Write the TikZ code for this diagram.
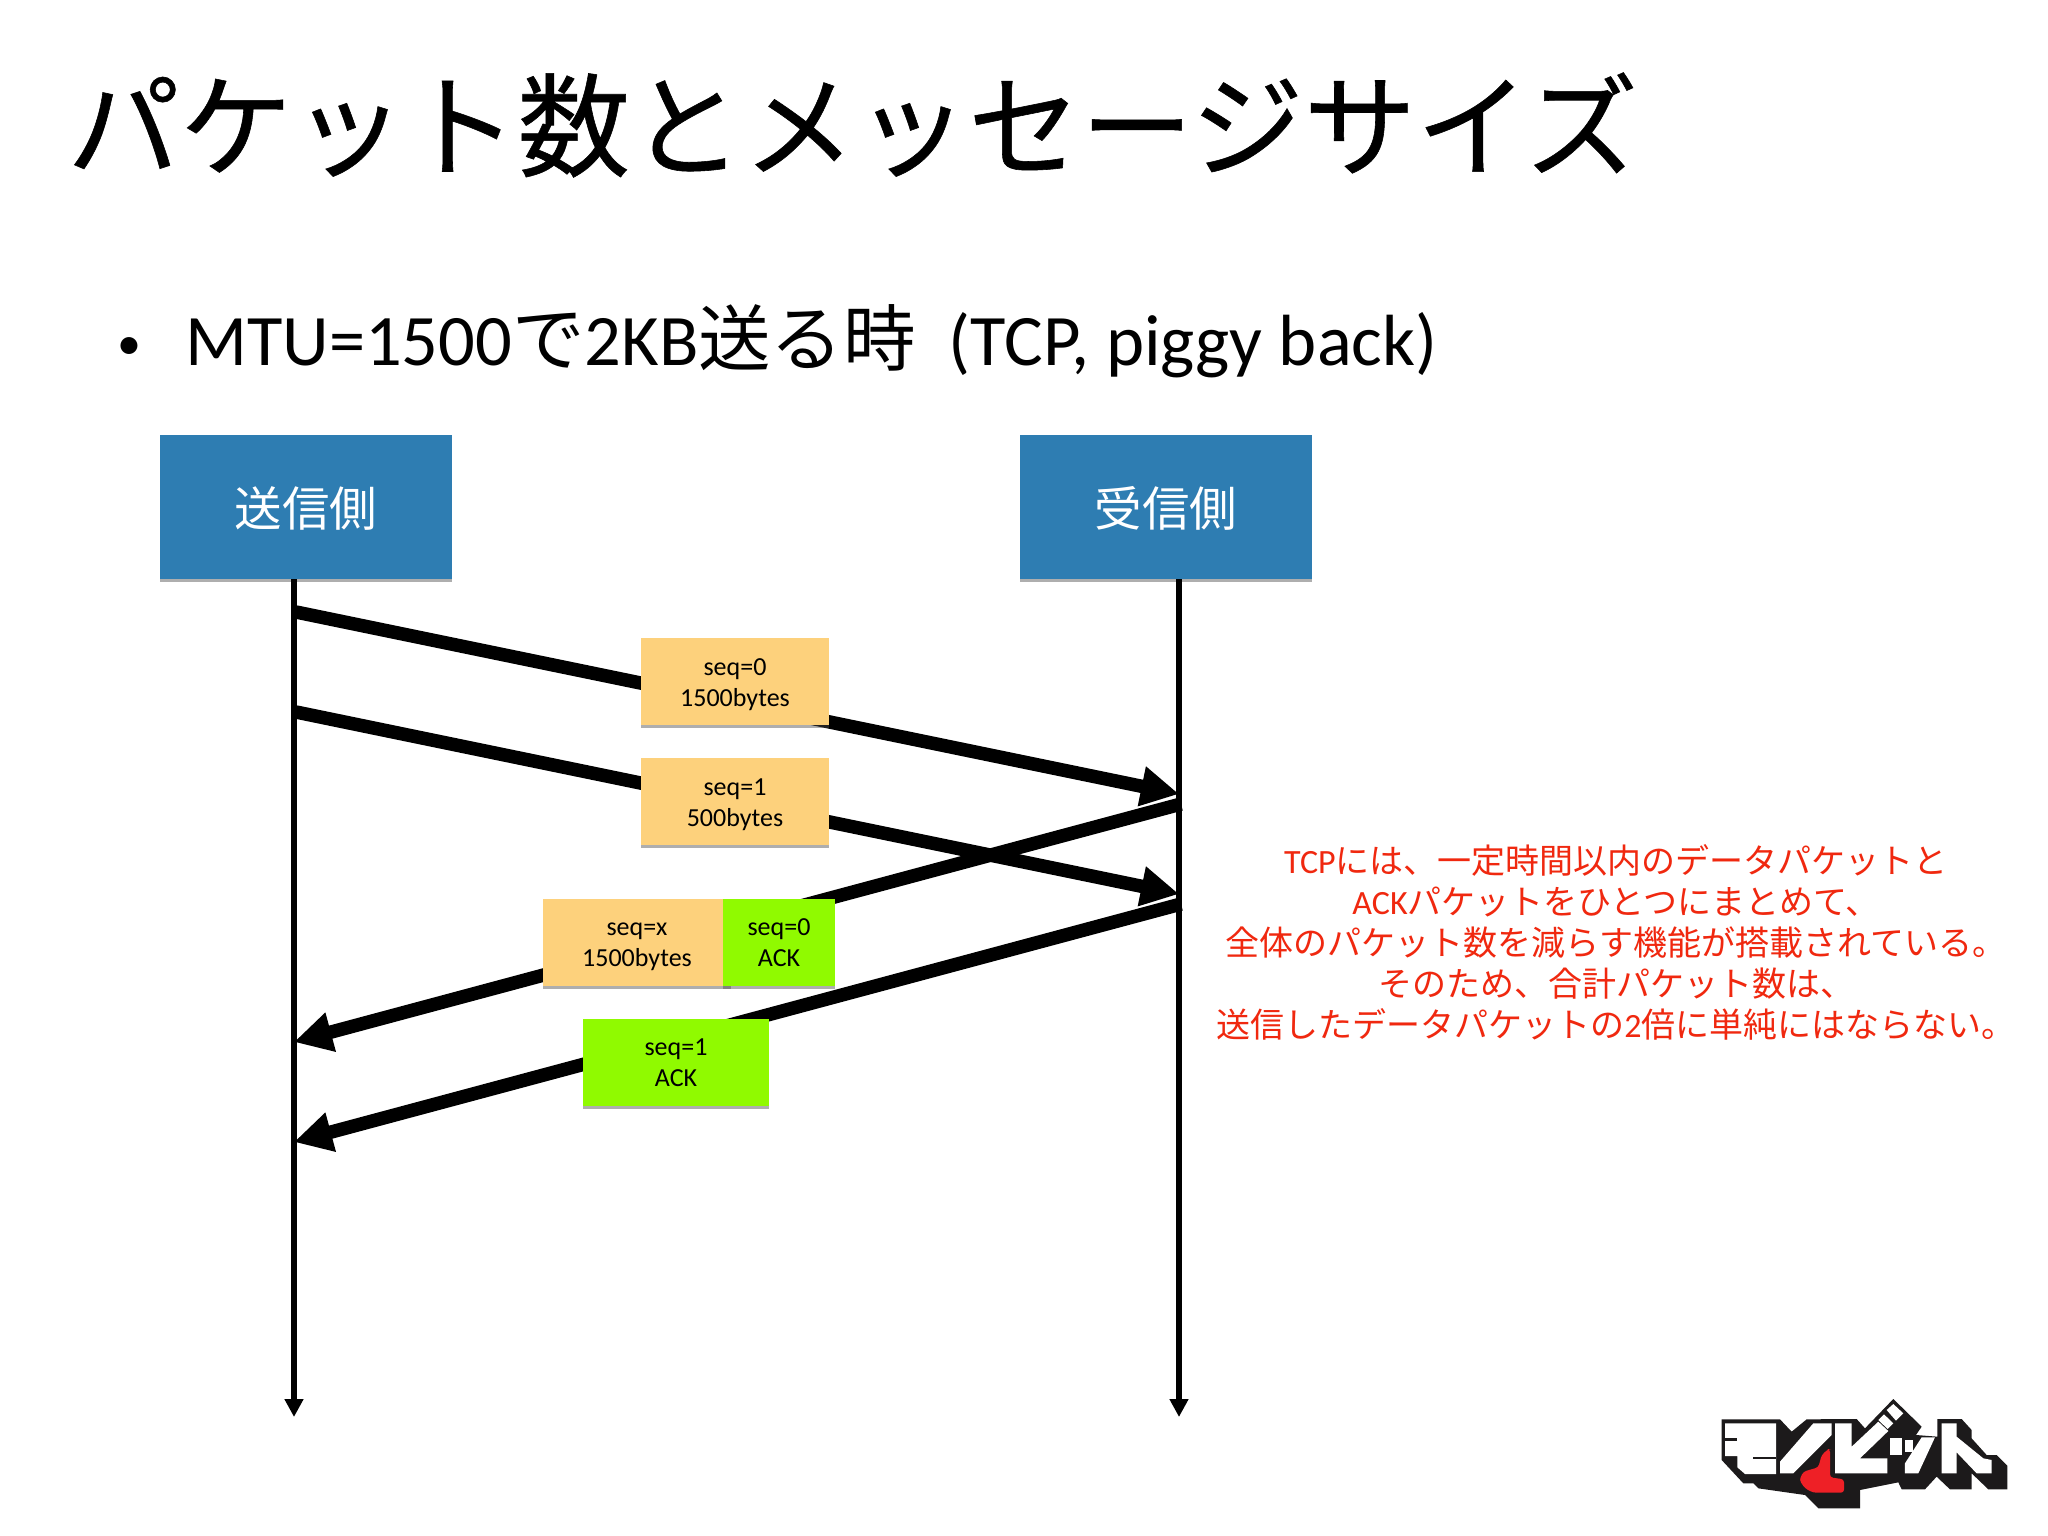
\documentclass[tikz,border=0pt]{standalone}
\usepackage{fontspec}
\usetikzlibrary{arrows.meta,shadows}
\setmainfont{Carlito}
\newfontfamily\cjkfont{Noto Sans CJK JP}
\newfontfamily\cjktitle[FakeBold=0.5]{Noto Sans CJK JP}
\newcommand{\jp}[1]{{\cjkfont #1}}
\newcommand{\stickyrule}{\rule{0pt}{24pt}}
\newcommand{\stickydepth}{\rule[-6pt]{0pt}{6pt}}
\definecolor{boxblue}{HTML}{2E7DB2}
\definecolor{stickyorange}{HTML}{FDD17C}
\definecolor{stickygreen}{HTML}{90FA00}
\definecolor{notered}{HTML}{F0280F}
\definecolor{logored}{HTML}{EE2026}
\definecolor{logoblack}{HTML}{1C1A1B}
\tikzset{
  softshadow/.style={drop shadow={shadow xshift=0pt,shadow yshift=-3pt,opacity=.45,fill=black!70}},
  headbox/.style={fill=boxblue,text=white,minimum width=292pt,minimum height=144pt,inner sep=0pt,softshadow,font=\fontsize{47.5}{56}\selectfont\cjkfont},
  sticky/.style={minimum height=87pt,inner sep=0pt,align=center,softshadow,text=black,font=\fontsize{26}{31}\selectfont},
  orangebox/.style={sticky,fill=stickyorange},
  greenbox/.style={sticky,fill=stickygreen},
  lifeline/.style={line width=5.5pt,-{Triangle[length=18pt,width=18pt]}},
  packet/.style={line width=13.5pt,-{Triangle[length=38pt,width=38pt]}},
  titletext/.style={anchor=west,inner sep=0pt,font=\fontsize{112.6}{120}\selectfont\cjktitle},
  bodytext/.style={anchor=west,inner sep=0pt,font=\fontsize{72.5}{80}\selectfont},
  bullettext/.style={inner sep=0pt,font=\fontsize{48}{56}\selectfont},
  notetext/.style={text=notered,align=center,inner sep=0pt,font=\fontsize{34}{41}\selectfont},
  logoblackfill/.style={fill=logoblack},
  logowhitefill/.style={fill=white},
}
\begin{document}
\begin{tikzpicture}[x=1pt,y=-1pt]
\useasboundingbox (0,0) rectangle (2048,1536);
\fill[white] (0,0) rectangle (2048,1536);

\node[titletext] (title) at (67,125) {パケット数とメッセージサイズ};
\node[bullettext] (bullet) at (129.5,349) {•};
\node[bodytext] (body) at (185,341) {MTU=1500\jp{で}2KB\jp{送る時}\ \ (TCP, piggy back)};

\coordinate (lifeLend) at (294,1417);
\coordinate (lifeRend) at (1179,1417);

\coordinate (p1s) at (296,612);
\coordinate (p1e) at (1179,794);
\coordinate (p2s) at (296,712);
\coordinate (p2e) at (1179,894);
\coordinate (p3s) at (1181,804);
\coordinate (p3e) at (294,1042);
\coordinate (p4s) at (1181,904);
\coordinate (p4e) at (294,1142);

\node[headbox] (sender) at (306,507) {\rule{0pt}{42pt}送信側};
\node[headbox] (receiver) at (1166,507) {\rule{0pt}{42pt}受信側};

\draw[lifeline] (sender.south -| lifeLend) -- (lifeLend);
\draw[lifeline] (receiver.south -| lifeRend) -- (lifeRend);

\draw[packet] (p1s) -- (p1e);
\draw[packet] (p2s) -- (p2e);
\draw[packet] (p3s) -- (p3e);
\draw[packet] (p4s) -- (p4e);

\node[orangebox,minimum width=188pt] (seq0) at (735,681.5) {\stickyrule seq=0\\1500bytes\stickydepth};
\node[orangebox,minimum width=188pt] (seq1) at (735,801.5) {\stickyrule seq=1\\500bytes\stickydepth};
\node[orangebox,minimum width=188pt] (seqx) at (637,942) {\stickyrule seq=x\\1500bytes\stickydepth};
\node[greenbox,minimum width=112pt] (ack0) at (779,942) {\stickyrule seq=0\\ACK\stickydepth};
\node[greenbox,minimum width=186pt] (ack1) at (676,1062) {\stickyrule seq=1\\ACK\stickydepth};

\node[notetext] (note) at (1616,942.5) {TCP\jp{には、一定時間以内のデータパケットと}\\ACK\jp{パケットをひとつにまとめて、}\\\jp{全体のパケット数を減らす機能が搭載されている。}\\\jp{そのため、合計パケット数は、}\\\jp{送信したデータパケットの}2\jp{倍に単純にはならない。}};

\begin{scope}[shift={(1650,1380)},x=0.3333pt,y=-0.3333pt]
  \fill[logoblackfill] (215,118) -- (390,118) -- (425,155) -- (470,118) -- (620,117) -- (645,145) -- (730,57) -- (815,140) -- (798,165) -- (862,170) -- (862,117) -- (935,117) -- (965,150) -- (965,175) -- (1010,225) -- (1040,225) -- (1072,257) -- (1072,328) -- (1015,328) -- (965,280) -- (965,328) -- (900,328) -- (860,290) -- (825,328) -- (755,328) -- (745,307) -- (630,330) -- (630,385) -- (505,385) -- (465,345) -- (325,325) -- (310,310) -- (280,310) -- (215,240) -- cycle;
  \fill[logowhitefill] (225,130) -- (378,130) -- (378,282) -- (285,282) -- (262,262) -- (262,228) -- (225,228) -- cycle;
  \fill[logoblackfill] (225,175) rectangle (262,183);
  \fill[logoblackfill] (308,232) rectangle (378,238);
  \fill[logowhitefill] (490,130) -- (545,130) -- (545,165) -- (430,280) -- (390,280) -- (390,245) -- cycle;
  \fill[logored,rounded corners=3pt] (535,207) -- (540,207) -- (540,292) -- (582,298) -- (582,338) -- (490,338) -- (465,325) -- (448,300) -- (460,275) -- (505,262) -- (515,225) -- cycle;
  \fill[logowhitefill] (555,130) -- (605,130) -- (605,200) -- (685,125) -- (715,153) -- (630,235) -- (712,235) -- (712,280) -- (555,280) -- cycle;
  \fill[logowhitefill] (710,90) -- (730,72) -- (760,100) -- (738,122) -- cycle;
  \fill[logowhitefill] (685,120) -- (702,103) -- (730,130) -- (713,147) -- cycle;
  \fill[logowhitefill] (720,175) rectangle (755,225);
  \fill[logowhitefill] (765,180) rectangle (790,215);
  \fill[logowhitefill] (815,172) -- (855,172) -- (805,280) -- (765,280) -- (765,250) -- cycle;
  \fill[logowhitefill] (875,130) -- (920,130) -- (920,170) -- (1000,235) -- (1025,240) -- (1025,280) -- (980,280) -- (920,217) -- (920,280) -- (875,280) -- cycle;
\end{scope}
\end{tikzpicture}
\end{document}
